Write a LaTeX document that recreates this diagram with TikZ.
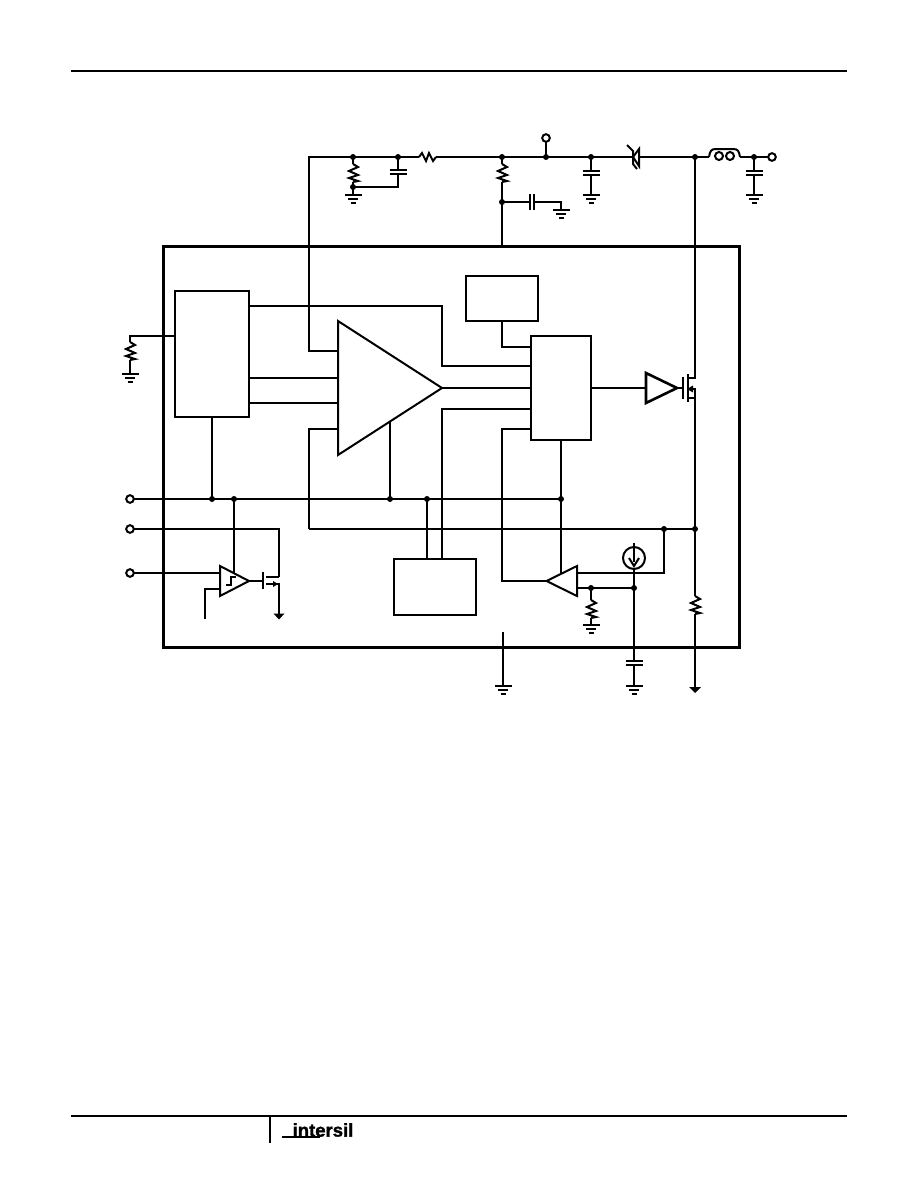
\documentclass[tikz,border=0pt]{standalone}
\usepackage{fontspec}
\setmainfont{Liberation Sans}
\newfontfamily\logofont[BoldFeatures={FakeBold=1.5}]{Liberation Sans}
\tikzset{
  wire/.style={line width=2pt,line join=miter},
  frame/.style={line width=3pt},
  blockbox/.style={draw,line width=2pt,rectangle,inner sep=0pt,fill=none},
  triline/.style={line width=2pt,line join=miter,fill=white},
  pin/.style={line width=2pt,fill=white},
  rule/.style={line width=2pt}
}
% vertical resistor with top point (#1,#2)
\newcommand{\myresv}[2]{\draw[wire] (#1,#2) -- ++(5,3) -- ++(-9,4) -- ++(9,4) -- ++(-9,3) -- ++(9,3) -- ++(-5,1);}
% ground with top bar centred at (#1,#2)
\newcommand{\mygnd}[2]{\draw[wire] (#1-8.5,#2) -- (#1+8.5,#2) (#1-5,#2+4) -- (#1+5,#2+4) (#1-2.5,#2+8) -- (#1+2.5,#2+8);}
% horizontal plates capacitor at x=#1, plates at y=#2
\newcommand{\mycapv}[2]{\draw[wire] (#1-8.5,#2) -- (#1+8.5,#2) (#1-8.5,#2+4) -- (#1+8.5,#2+4);}
\begin{document}
\begin{tikzpicture}[x=1pt,y=-1pt]
\useasboundingbox (0,0) rectangle (918,1188);
\fill[white] (0,0) rectangle (918,1188);
% page rules
\coordinate (ruleTL) at (71,71); \coordinate (ruleTR) at (847,71);
\coordinate (ruleBL) at (71,1116); \coordinate (ruleBR) at (847,1116);
\coordinate (ruleV) at (270,1116); \coordinate (ruleVe) at (270,1143);
\draw[rule] (ruleTL) -- (ruleTR);
\draw[rule] (ruleBL) -- (ruleBR);
\draw[rule] (ruleV) -- (ruleVe);
\node[inner sep=0pt,font=\logofont\bfseries\fontsize{18.5}{18.5}\selectfont] (logo) at (323,1130) {intersil};
\coordinate (swA) at (282,1137); \coordinate (swB) at (320,1137);
\draw[line width=1.2pt] (swA) -- (swB);

% main frame and blocks
\node[draw,frame,rectangle,inner sep=0pt,minimum width=576pt,minimum height=401pt] (chip) at (451,446.5) {};
\node[blockbox,minimum width=74pt,minimum height=126pt] (boxA) at (212,354) {};
\node[blockbox,minimum width=72pt,minimum height=45pt] (boxB) at (502,298.5) {};
\node[blockbox,minimum width=60pt,minimum height=104pt] (boxC) at (561,388) {};
\node[blockbox,minimum width=82pt,minimum height=56pt] (boxD) at (435,587) {};

% coordinates: junctions
\coordinate (j353) at (353,157); \coordinate (j398) at (398,157); \coordinate (j502) at (502,157);
\coordinate (j546) at (546,157); \coordinate (j591) at (591,157); \coordinate (j695) at (695,157);
\coordinate (j754) at (754,157); \coordinate (j353b) at (353,187); \coordinate (j502b) at (502,202);
\coordinate (b212) at (212,499); \coordinate (b234) at (234,499); \coordinate (b390) at (390,499);
\coordinate (b427) at (427,499); \coordinate (b561) at (561,499);
\coordinate (c664) at (664,529); \coordinate (c695) at (695,529);
\coordinate (f591) at (591,588); \coordinate (f634) at (634,588);
% pins
\coordinate (pTop) at (546,138); \coordinate (pOut) at (772,157);
\coordinate (pA) at (130,499); \coordinate (pB) at (130,529); \coordinate (pC) at (130,573);
% amplifier triangle
\coordinate (ampT) at (338,321); \coordinate (ampB) at (338,455); \coordinate (ampO) at (442,388);
% driver triangle
\coordinate (drvT) at (646,373); \coordinate (drvB) at (646,403); \coordinate (drvO) at (677,388);
% error amp triangle
\coordinate (errT) at (577,566); \coordinate (errB) at (577,596); \coordinate (errO) at (546.5,581);
% comparator triangle
\coordinate (cmpT) at (220,566); \coordinate (cmpB) at (220,596); \coordinate (cmpO) at (249,581);

% top rail
\coordinate (topL) at (309,157); \coordinate (amp351) at (338,351);
\coordinate (r1a) at (419,157); \coordinate (r1b) at (436,157);
\draw[wire] (amp351) -| (topL) -- (r1a);
\draw[wire] (r1a) -- ++(3,-4) -- ++(4,8) -- ++(3,-8) -- ++(4,8) -- (r1b);
\draw[wire] (r1b) -- (j502) -- (j546) -- (j591);
\coordinate (znA) at (633,157); \coordinate (znB) at (639,157);
\draw[wire] (j591) -- (znA);
\draw[wire] (znB) -- (j695);
\draw[wire] (627,145) -- (633,151) -- (633,164) -- (637,169);
\draw[wire,line join=miter] (639,149) -- (633,157) -- (639,166) -- cycle;
% inductor
\coordinate (indA) at (709,157); \coordinate (indB) at (740,157);
\draw[wire] (j695) -- (indA);
\draw[wire] (indA) .. controls (710,151) and (711,149) .. (716,149) -- (733,149) .. controls (738,149) and (739,151) .. (indB);
\draw[wire] (719,156) circle (4);
\draw[wire] (730,156) circle (4);
\draw[wire] (indB) -- (j754) -- (pOut);
\draw[wire] (j546) -- (pTop);

% branch at 353
\coordinate (r2a) at (353,164);\coordinate (r2b) at (353,182);\coordinate (g353) at (353,195);
\draw[wire] (j353) -- (r2a); \myresv{353}{164}
\draw[wire] (r2b) -- (j353b) -- (g353); \mygnd{353}{195}
\coordinate (c398a) at (398,170); \coordinate (c398b) at (398,174);
\draw[wire] (j398) -- (c398a); \mycapv{398}{170}
\draw[wire] (c398b) |- (j353b);
% branch at 502
\coordinate (r3a) at (502,164);\coordinate (r3b) at (502,182);
\draw[wire] (j502) -- (r3a); \myresv{502}{164}
\draw[wire] (r3b) -- (j502b) -- (boxB.north |- chip.north);
\coordinate (c530) at (530,202); \coordinate (c534) at (534,202); \coordinate (g561) at (561,210);
\draw[wire] (j502b) -- (c530);
\draw[wire] (530,194) -- (530,210) (534,194) -- (534,210);
\draw[wire] (c534) -| (g561); \mygnd{561}{210}
% cap 591
\coordinate (c591a) at (591,171); \coordinate (c591b) at (591,175); \coordinate (g591) at (591,195);
\draw[wire] (j591) -- (c591a); \mycapv{591}{171}
\draw[wire] (c591b) -- (g591); \mygnd{591}{195}
% cap 754
\coordinate (c754a) at (754,171); \coordinate (c754b) at (754,175); \coordinate (g754) at (754,195);
\draw[wire] (j754) -- (c754a); \mycapv{754}{171}
\draw[wire] (c754b) -- (g754); \mygnd{754}{195}

% left resistor
\coordinate (rLa) at (130,336); \coordinate (rLb) at (130,342); \coordinate (rLc) at (130,360); \coordinate (gL) at (130,374);
\draw[wire] (boxA.west |- rLa) -- (rLa) -- (rLb); \myresv{130}{342}
\draw[wire] (rLc) -- (gL); \mygnd{130}{374}

% block A to amplifier
\coordinate (a306) at (442,306); \coordinate (c366) at (442,366);
\draw[wire] (boxA.east |- a306) -- (a306) -- (c366) -- (boxC.west |- c366);
\coordinate (a378) at (338,378); \coordinate (a403) at (338,403);
\draw[wire] (boxA.east |- a378) -- (a378);
\draw[wire] (boxA.east |- a403) -- (a403);
\draw[wire] (boxA.south -| b212) -- (b212);
% amp output etc.
\draw[wire] (ampO) -- (boxC.west |- ampO);
\coordinate (a429) at (338,429); \coordinate (l309) at (309,529);
\draw[wire] (a429) -| (l309);
\draw[wire] (l309) -- (c664) -- (c695);
\coordinate (a390) at (390,421);
\draw[wire] (a390) -- (b390);
\draw[wire] (b427) -- (boxD.north -| b427);
\coordinate (d442) at (442,559); \coordinate (c409) at (442,409);
\draw[wire] (d442) -- (c409) -- (boxC.west |- c409);
\draw[wire] (boxB.south) |- (boxC.west |- 0,347);
% block C feedback
\coordinate (c429) at (531,429); \coordinate (e502) at (502,429);
\draw[wire] (c429) -- (e502) |- (errO);
\coordinate (e561) at (561,574);
\draw[wire] (boxC.south) -- (b561) -- (e561);
% C to driver
\draw[wire] (boxC.east |- drvO) -- (drvT |- drvO);
% rails
\draw[wire] (pA) -- (b212) -- (b234) -- (b390) -- (b427) -- (b561);
\coordinate (rB) at (279,529); \coordinate (mD) at (279,577);
\draw[wire] (pB) -- (rB) -- (mD);
\draw[wire] (pC) -- (cmpT |- pC);
\coordinate (cmp589) at (220,589); \coordinate (cmpFree) at (205,619);
\draw[wire] (cmp589) -| (cmpFree);
\coordinate (cmpV) at (234,574);
\draw[wire] (b234) -- (cmpV);
% comparator output FET
\coordinate (cG) at (263,581);
\draw[wire] (cmpO) -- (cG);
\draw[wire] (263,572) -- (263,589);
\draw[wire] (266,577) -- (mD);
\coordinate (mS) at (279,584); \coordinate (mE) at (279,614);
\draw[wire] (266,584) -- (mS) -- (mE);
\fill (273,581) -- (278,584) -- (273,587) -- cycle;
\fill (273.5,613.5) -- (284.5,613.5) -- (279,619.5) -- cycle;

% error amp inputs
\coordinate (e573) at (664,573); \coordinate (e588) at (577,588);
\draw[wire] (errT |- e573) -- (e573) -- (c664);
\draw[wire] (e588) -- (f591) -- (f634);
\coordinate (s634) at (634,558); \coordinate (s634b) at (634,569);
\coordinate (c634a) at (634,661); \coordinate (c634b) at (634,665); \coordinate (g634) at (634,686);
\draw[wire] (s634b) -- (f634) -- (c634a); \mycapv{634}{661}
\draw[wire] (c634b) -- (g634); \mygnd{634}{686}
\draw[wire] (s634) circle (11);
\coordinate (s634t) at (634,543); \coordinate (s634m) at (634,562);
\draw[wire] (s634t) -- (s634m);
\draw[wire] (629,558) -- (634,566) -- (639,558);
\coordinate (r4a) at (591,600); \coordinate (r4b) at (591,618); \coordinate (g4) at (591,625);
\draw[wire] (f591) -- (r4a); \myresv{591}{600}
\draw[wire] (r4b) -- (g4); \mygnd{591}{625}
% chip ground
\coordinate (gT) at (503,632); \coordinate (gB) at (503,686);
\draw[wire] (gT) -- (gB); \mygnd{503}{686}
% output stage
\coordinate (mDr) at (695,378); \coordinate (mMid) at (695,389); \coordinate (mSr) at (695,398);
\coordinate (r5a) at (695,596); \coordinate (r5b) at (695,614); \coordinate (arr) at (695,687);
\draw[wire] (j695) -- (mDr) -- (687,378);
\draw[wire] (687,398) -- (mSr) -- (mMid) -- (689,389);
\fill (687,389) -- (693,385.5) -- (693,392.5) -- cycle;
\draw[wire] (683,377) -- (683,399);
\draw[wire] (687.5,374) -- (687.5,402);
\draw[wire] (drvO) -- (683,388);
\draw[wire] (mSr) -- (c695) -- (r5a); \myresv{695}{596}
\draw[wire] (r5b) -- (arr);
\fill (689,687) -- (701,687) -- (695,693) -- cycle;

% triangles
\draw[triline] (ampT) -- (ampO) -- (ampB) -- cycle;
\draw[line width=2.6pt,line join=miter] (drvT) -- (drvO) -- (drvB) -- cycle;
\draw[triline] (errT) -- (errO) -- (errB) -- cycle;
\draw[triline] (cmpT) -- (cmpO) -- (cmpB) -- cycle;
\draw[wire] (226,585) -- (231,585) -- (231,577) -- (236,577);

% junction dots
\foreach \p in {j353,j398,j502,j546,j591,j695,j754,j353b,j502b,b212,b234,b390,b427,b561,c664,c695,f591,f634}
  \fill (\p) circle (3);
% pins
\foreach \p in {pTop,pOut,pA,pB,pC}
  \draw[pin] (\p) circle (3.8);
\end{tikzpicture}
\end{document}
